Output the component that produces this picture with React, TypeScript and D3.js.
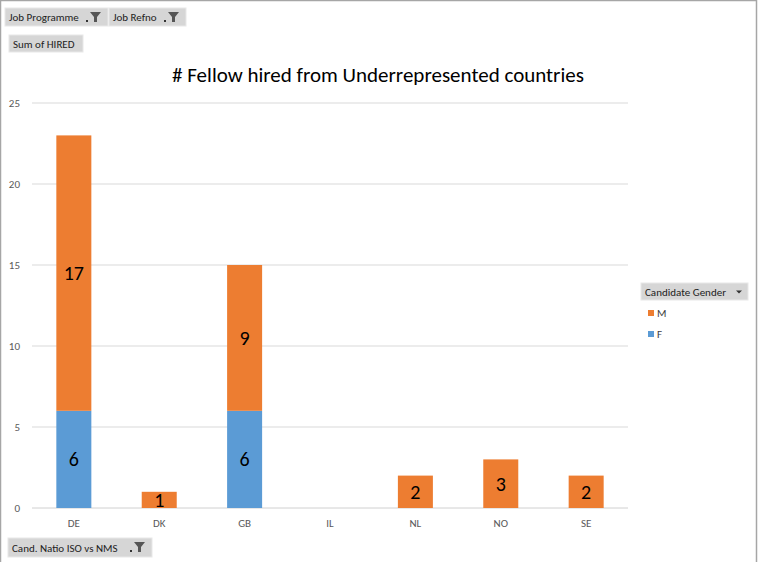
import React from "react";
import * as d3 from "d3";

const categories = ["DE", "DK", "GB", "IL", "NL", "NO", "SE"];
const femaleValues = [6, 0, 6, 0, 0, 0, 0];
const maleValues = [17, 1, 9, 0, 2, 3, 2];
const yTicks = [0, 5, 10, 15, 20, 25];
const seriesNames = ["M", "F"];

const W = 760;
const H = 562;
const FONT = "Carlito, Calibri, 'Liberation Sans', Arial, sans-serif";
const ORANGE = "#ED7D31";
const BLUE = "#5B9BD5";

function Button({ x, y, w, h, label, filter, dropdown }: any) {
  return (
    <g>
      <rect x={x} y={y} width={w} height={h} fill="#d6d6d6" stroke="#e8e8e8" strokeWidth={1} />
      <text x={x + 4} y={y + h / 2 + 4} fontSize={11} fill="#222" fontFamily={FONT}>
        {label}
      </text>
      {filter && (
        <g transform={`translate(${x + w - 18},${y + 4})`}>
          <rect x={-4} y={8} width={2} height={2} fill="#333" />
          <path d="M0,0 L11,0 L7,5 L7,10 L4,10 L4,5 Z" fill="#555" />
        </g>
      )}
      {dropdown && (
        <path d={`M${x + w - 12},${y + h / 2 - 1} l6,0 l-3,3 z`} fill="#333" />
      )}
    </g>
  );
}

export default function App() {
  const left = 32;
  const right = 628;
  const top = 103;
  const bottom = 508;

  const x = d3.scaleBand().domain(categories).range([left, right]).paddingInner(0.59).paddingOuter(0.285);
  const y = d3.scaleLinear().domain([0, 25]).range([bottom, top]);

  const data = categories.map((c, i) => ({ cat: c, F: femaleValues[i], M: maleValues[i] }));
  const stack = d3.stack<any>().keys(["F", "M"])(data);
  const colors: any = { F: BLUE, M: ORANGE };

  return (
    <svg width={W} height={H} style={{ position: "absolute", left: 0, top: 0, background: "#fff" }}>
      <rect x={0.5} y={0.5} width={756} height={H + 5} fill="#fff" stroke="#a6a6a6" strokeWidth={1.5} />
      {yTicks.map((t) => (
        <g key={t}>
          <line x1={left} x2={right} y1={y(t)} y2={y(t)} stroke={t === 0 ? "#d0d0d0" : "#d9d9d9"} strokeWidth={1} />
          <text x={20} y={y(t) + 4} textAnchor="end" fontSize={11} fill="#595959" fontFamily={FONT}>
            {t}
          </text>
        </g>
      ))}
      {stack.map((s) =>
        s.map((d: any, i: number) => {
          const v = d[1] - d[0];
          if (v <= 0) return null;
          const cat = categories[i];
          const bx = x(cat)!;
          const bw = x.bandwidth();
          const y0 = y(d[0]);
          const y1 = y(d[1]);
          return (
            <g key={s.key + cat}>
              <rect x={bx} y={y1} width={bw} height={y0 - y1} fill={colors[s.key]} />
              <text
                x={bx + bw / 2}
                y={(y0 + y1) / 2 + 7}
                textAnchor="middle"
                fontSize={20}
                fill="#000"
                fontFamily={FONT}
              >
                {v}
              </text>
            </g>
          );
        })
      )}
      {categories.map((c) => (
        <text key={c} x={x(c)! + x.bandwidth() / 2} y={527} textAnchor="middle" fontSize={11} fill="#595959" fontFamily={FONT}>
          {c}
        </text>
      ))}
      <text x={378} y={82} textAnchor="middle" fontSize={21} fill="#000" fontFamily={FONT}>
        # Fellow hired from Underrepresented countries
      </text>

      <Button x={5} y={8} w={103} h={18} label="Job Programme" filter />
      <Button x={109} y={8} w={77} h={18} label="Job Refno" filter />
      <Button x={9} y={35} w={74} h={17} label="Sum of HIRED" />
      <Button x={8} y={538} w={144} h={19} label="Cand. Natio ISO vs NMS" filter />
      <Button x={641} y={283} w={107} h={17} label="Candidate Gender" dropdown />

      {seriesNames.map((n, i) => (
        <g key={n}>
          <rect x={648} y={310 + i * 21} width={6} height={6} fill={n === "M" ? ORANGE : BLUE} />
          <text x={657} y={317 + i * 21} fontSize={11} fill="#404040" fontFamily={FONT}>
            {n}
          </text>
        </g>
      ))}
    </svg>
  );
}
